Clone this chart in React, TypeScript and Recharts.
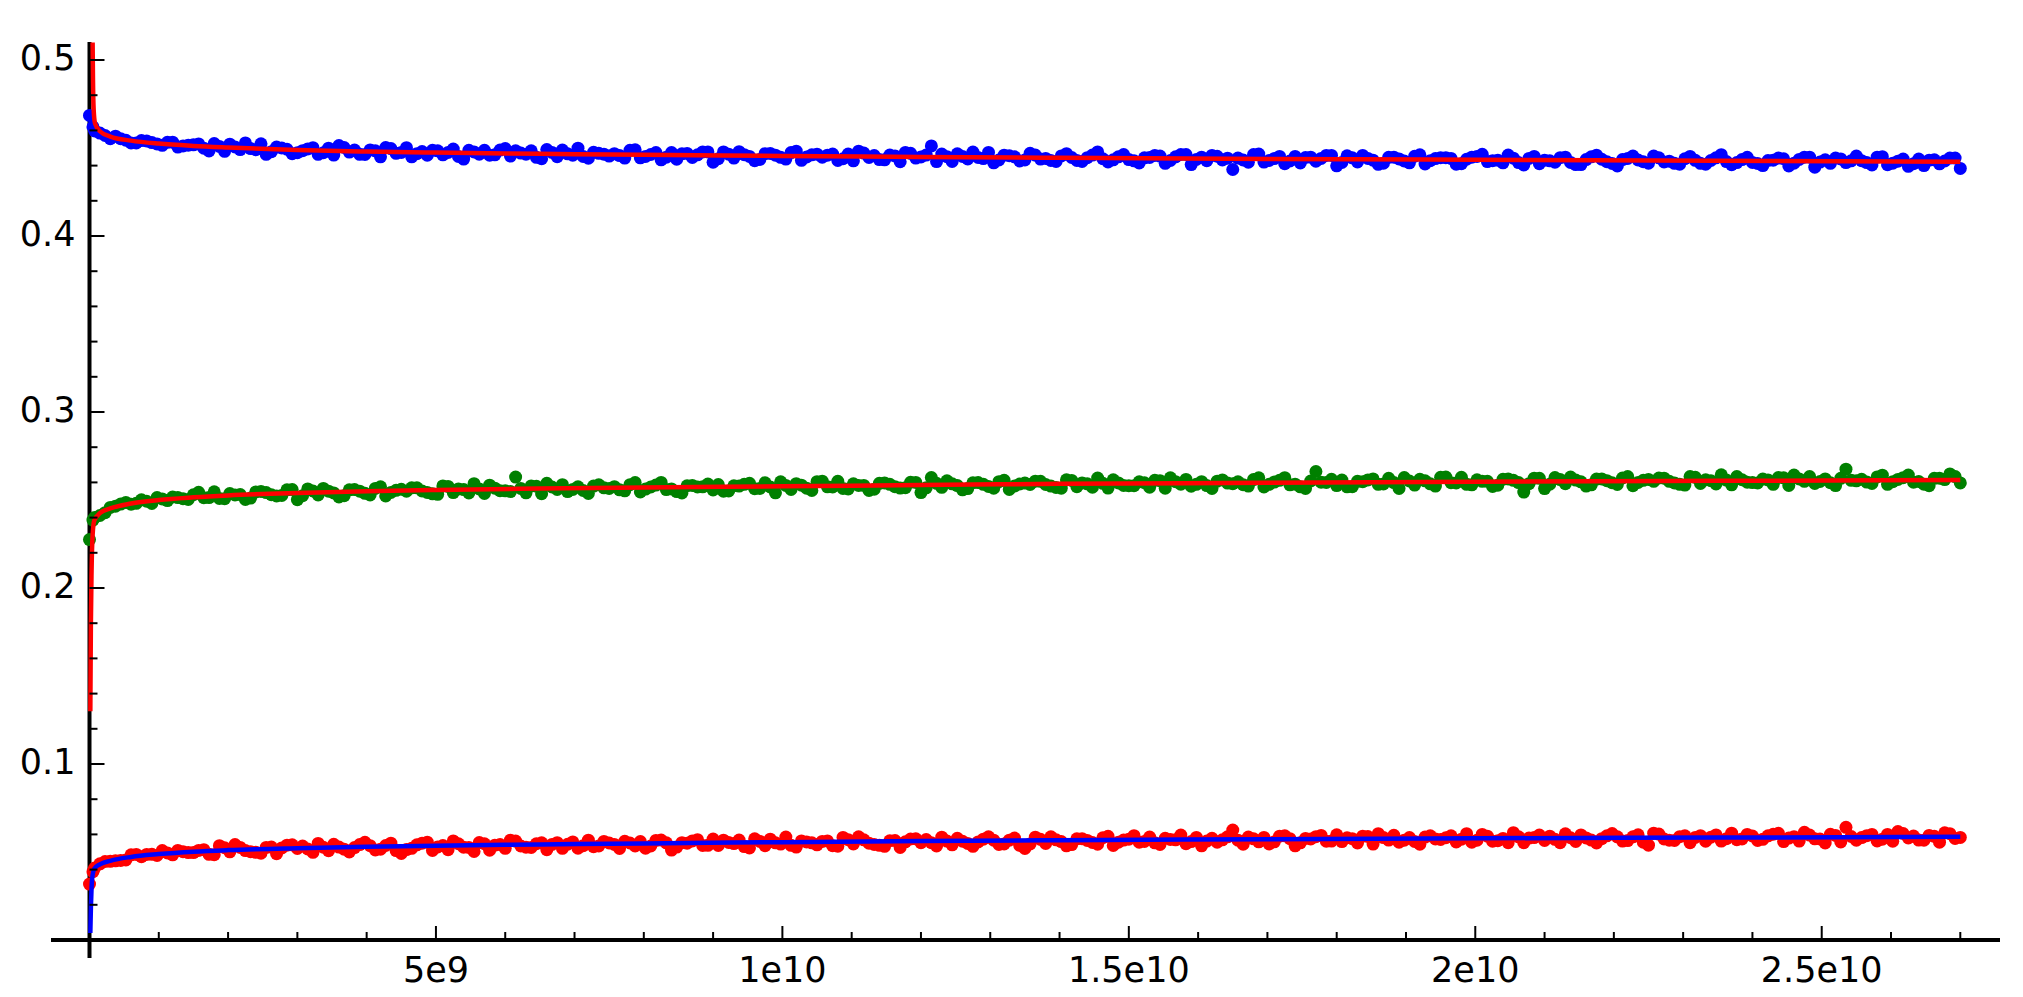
import { ComposedChart, Line, ReferenceLine, Scatter, XAxis, YAxis } from 'recharts';

// sample positions: set A = 0, 5e7, then every 1.5e8; set B sits halfway between
const X_POINTS_A = [0, 5e7, ...Array.from({ length: 180 }, (_, k) => (k + 1) * 1.5e8)];
const X_POINTS_B = Array.from({ length: 180 }, (_, k) => 7.5e7 + k * 1.5e8);

const BLUE_Y_A = [
  0.4685, 0.462,
  0.4585, 0.4553, 0.4553, 0.4529, 0.4542, 0.4531, 0.4515, 0.4533, 0.4512, 0.4518,
  0.4499, 0.4525, 0.4481, 0.4506, 0.4529, 0.449, 0.4464, 0.4505, 0.4493, 0.4473,
  0.4495, 0.4464, 0.4499, 0.4514, 0.4477, 0.4464, 0.4489, 0.445, 0.4497, 0.4475,
  0.445, 0.448, 0.4487, 0.4461, 0.4494, 0.4437, 0.4478, 0.4487, 0.4461, 0.4497,
  0.4484, 0.4465, 0.4447, 0.4491, 0.4451, 0.4467, 0.4499, 0.4442, 0.447, 0.4454,
  0.4457, 0.4487, 0.4444, 0.4463, 0.4433, 0.4474, 0.4467, 0.4446, 0.4478, 0.4419,
  0.4478, 0.4443, 0.4462, 0.4428, 0.4468, 0.4459, 0.4437, 0.4482, 0.4449, 0.4465,
  0.4459, 0.4429, 0.4466, 0.4482, 0.4446, 0.4434, 0.446, 0.4422, 0.447, 0.4449,
  0.4512, 0.4466, 0.4424, 0.4452, 0.4477, 0.444, 0.4416, 0.4459, 0.445, 0.4432,
  0.446, 0.4441, 0.4424, 0.4468, 0.4429, 0.4445, 0.4478, 0.4421, 0.445, 0.4434,
  0.4415, 0.4446, 0.4454, 0.4429, 0.4463, 0.4406, 0.4448, 0.4458, 0.4432, 0.4378,
  0.4432, 0.4463, 0.442, 0.444, 0.4411, 0.4452, 0.4446, 0.4425, 0.4458, 0.4399,
  0.4456, 0.4421, 0.4441, 0.4407, 0.4447, 0.4438, 0.4416, 0.4461, 0.4428, 0.4445,
  0.4441, 0.4411, 0.4448, 0.4464, 0.4428, 0.4416, 0.4442, 0.4404, 0.4452, 0.4431,
  0.4419, 0.4448, 0.4406, 0.4434, 0.4459, 0.4422, 0.4398, 0.4441, 0.4432, 0.4414,
  0.4444, 0.4425, 0.4408, 0.4452, 0.4413, 0.4429, 0.4462, 0.4405, 0.4434, 0.4418,
  0.44, 0.4431, 0.4439, 0.4414, 0.4448, 0.4391, 0.4433, 0.4443, 0.4417, 0.4454,
  0.4417, 0.4448, 0.4405, 0.4425, 0.4396, 0.4437, 0.4431, 0.441, 0.4443, 0.4384,
];
const BLUE_Y_B = [
  0.4597, 0.4571, 0.4567, 0.4544, 0.4529, 0.454, 0.4523, 0.4532, 0.4505, 0.4516,
  0.4523, 0.4483, 0.4509, 0.4522, 0.4491, 0.4497, 0.4524, 0.4479, 0.45, 0.4468,
  0.4485, 0.4502, 0.4473, 0.446, 0.4503, 0.4488, 0.4463, 0.4484, 0.4503, 0.447,
  0.4502, 0.4468, 0.4459, 0.4484, 0.4475, 0.4452, 0.4487, 0.4465, 0.4459, 0.4488,
  0.4454, 0.4471, 0.4484, 0.4439, 0.4475, 0.4488, 0.4459, 0.4452, 0.4476, 0.4465,
  0.4468, 0.4443, 0.449, 0.4452, 0.4474, 0.4448, 0.4436, 0.4469, 0.4461, 0.4478,
  0.4439, 0.4465, 0.4479, 0.4452, 0.4435, 0.4469, 0.4447, 0.4474, 0.443, 0.4461,
  0.4448, 0.4466, 0.4439, 0.4427, 0.4471, 0.4457, 0.4433, 0.4455, 0.4475, 0.4443,
  0.446, 0.4423, 0.4451, 0.4467, 0.4438, 0.4446, 0.4475, 0.4432, 0.4456, 0.4426,
  0.447, 0.4437, 0.4429, 0.4455, 0.4446, 0.4424, 0.446, 0.4439, 0.4433, 0.4463,
  0.4427, 0.4444, 0.4458, 0.4413, 0.445, 0.4463, 0.4435, 0.4428, 0.4453, 0.4442,
  0.4443, 0.4419, 0.4466, 0.4429, 0.4452, 0.4426, 0.4415, 0.4448, 0.4441, 0.4458,
  0.4418, 0.4444, 0.4458, 0.4431, 0.4414, 0.4448, 0.4426, 0.4453, 0.4409, 0.444,
  0.4445, 0.4408, 0.4436, 0.4452, 0.4423, 0.4431, 0.446, 0.4417, 0.4441, 0.4411,
  0.4427, 0.4445, 0.4418, 0.4406, 0.445, 0.4436, 0.4412, 0.4434, 0.4454, 0.4422,
  0.4454, 0.4421, 0.4413, 0.4439, 0.443, 0.4408, 0.4444, 0.4423, 0.4417, 0.4447,
  0.4412, 0.4429, 0.4443, 0.4398, 0.4435, 0.4448, 0.442, 0.4413, 0.4438, 0.4427,
  0.4428, 0.4404, 0.4451, 0.4414, 0.4437, 0.4411, 0.44, 0.4433, 0.4426, 0.4443,
];

const GREEN_Y_A = [
  0.2275, 0.2386,
  0.2412, 0.2458, 0.2477, 0.2476, 0.2501, 0.248, 0.2506, 0.2517, 0.2507, 0.253,
  0.2513, 0.2547, 0.2507, 0.2529, 0.2503, 0.2546, 0.2542, 0.2523, 0.2558, 0.2502,
  0.2563, 0.2529, 0.255, 0.2517, 0.2558, 0.255, 0.2529, 0.2575, 0.2543, 0.2561,
  0.2569, 0.2551, 0.2535, 0.258, 0.2542, 0.2559, 0.2593, 0.2537, 0.2567, 0.2552,
  0.263, 0.2541, 0.2578, 0.2595, 0.256, 0.2548, 0.2575, 0.2537, 0.2586, 0.2566,
  0.2558, 0.2587, 0.2546, 0.2574, 0.26, 0.2563, 0.254, 0.2583, 0.2575, 0.2557,
  0.255, 0.2581, 0.2589, 0.2564, 0.2598, 0.2541, 0.2583, 0.2593, 0.2567, 0.2604,
  0.2575, 0.2606, 0.2563, 0.2583, 0.2554, 0.2595, 0.2589, 0.2568, 0.2601, 0.2542,
  0.2628, 0.2572, 0.2592, 0.2558, 0.2598, 0.2589, 0.2567, 0.2612, 0.2579, 0.2596,
  0.2607, 0.2588, 0.2571, 0.2615, 0.2576, 0.2592, 0.2625, 0.2568, 0.2597, 0.2581,
  0.2603, 0.2573, 0.261, 0.2626, 0.259, 0.2578, 0.2604, 0.2566, 0.2614, 0.2593,
  0.2587, 0.2616, 0.2574, 0.2602, 0.2627, 0.259, 0.2566, 0.2662, 0.26, 0.2582,
  0.2575, 0.2606, 0.2614, 0.2589, 0.2623, 0.2566, 0.2608, 0.2618, 0.2592, 0.2629,
  0.2598, 0.2629, 0.2586, 0.2606, 0.2577, 0.2618, 0.2612, 0.2545, 0.2624, 0.2565,
  0.2628, 0.2593, 0.2613, 0.2579, 0.2619, 0.261, 0.2588, 0.2633, 0.26, 0.2617,
  0.2625, 0.2606, 0.2589, 0.2633, 0.2594, 0.261, 0.2643, 0.2586, 0.2615, 0.2599,
  0.2619, 0.2589, 0.2626, 0.2642, 0.2606, 0.2594, 0.262, 0.2582, 0.2675, 0.2609,
  0.2602, 0.2631, 0.2589, 0.2617, 0.2642, 0.2605, 0.2581, 0.2624, 0.2648, 0.2597,
];
const GREEN_Y_B = [
  0.2401, 0.2428, 0.2465, 0.2486, 0.2481, 0.2493, 0.2514, 0.2497, 0.2514, 0.2503,
  0.2544, 0.2514, 0.2509, 0.2537, 0.2531, 0.2511, 0.2549, 0.253, 0.2526, 0.2559,
  0.2524, 0.2551, 0.2566, 0.254, 0.2524, 0.2559, 0.2538, 0.2566, 0.2523, 0.2555,
  0.255, 0.2569, 0.2543, 0.2532, 0.2577, 0.2563, 0.254, 0.2563, 0.2584, 0.2553,
  0.2548, 0.2566, 0.258, 0.2536, 0.2574, 0.2587, 0.256, 0.2554, 0.2579, 0.2569,
  0.2576, 0.2552, 0.2599, 0.2562, 0.2585, 0.2559, 0.2548, 0.2581, 0.2574, 0.2591,
  0.2588, 0.2551, 0.2579, 0.2595, 0.2566, 0.2574, 0.2603, 0.256, 0.2584, 0.2554,
  0.2607, 0.2574, 0.2566, 0.2592, 0.2583, 0.2561, 0.2597, 0.2576, 0.257, 0.26,
  0.2569, 0.2595, 0.2609, 0.2582, 0.2565, 0.2599, 0.2577, 0.2604, 0.256, 0.2591,
  0.2588, 0.2606, 0.2579, 0.2567, 0.2611, 0.2597, 0.2573, 0.2595, 0.2615, 0.2583,
  0.2581, 0.2598, 0.2612, 0.2567, 0.2604, 0.2617, 0.2589, 0.2582, 0.2607, 0.2596,
  0.2603, 0.2579, 0.2626, 0.2589, 0.2612, 0.2586, 0.2575, 0.2608, 0.2601, 0.2618,
  0.2613, 0.2576, 0.2604, 0.262, 0.2591, 0.2599, 0.2628, 0.2585, 0.2609, 0.2579,
  0.263, 0.2597, 0.2589, 0.2615, 0.2606, 0.2584, 0.262, 0.2599, 0.2593, 0.2623,
  0.259, 0.2616, 0.263, 0.2603, 0.2586, 0.262, 0.2598, 0.2625, 0.2581, 0.2612,
  0.2606, 0.2624, 0.2597, 0.2585, 0.2629, 0.2615, 0.2591, 0.2613, 0.2633, 0.2601,
  0.2597, 0.2614, 0.2628, 0.2583, 0.262, 0.2633, 0.2605, 0.2598, 0.2623, 0.2612,
  0.2618, 0.2594, 0.2641, 0.2604, 0.2627, 0.2601, 0.259, 0.2623, 0.2616, 0.2633,
];

const RED_Y_A = [
  0.0318, 0.0388,
  0.0433, 0.0447, 0.0452, 0.0484, 0.0473, 0.0487, 0.0508, 0.0484, 0.0502, 0.0497,
  0.0513, 0.0485, 0.0524, 0.0542, 0.0508, 0.0498, 0.0526, 0.049, 0.0539, 0.052,
  0.0517, 0.0549, 0.0507, 0.0528, 0.05, 0.0542, 0.0536, 0.0516, 0.055, 0.0492,
  0.0521, 0.055, 0.0509, 0.0537, 0.0563, 0.0527, 0.0503, 0.0547, 0.0539, 0.0521,
  0.0562, 0.0527, 0.0547, 0.0513, 0.0553, 0.0544, 0.0522, 0.0567, 0.0534, 0.0551,
  0.052, 0.0551, 0.0559, 0.0534, 0.0568, 0.0511, 0.0553, 0.0563, 0.0537, 0.0574,
  0.0567, 0.0548, 0.0531, 0.0575, 0.0536, 0.0552, 0.0585, 0.0528, 0.0557, 0.0541,
  0.0563, 0.0533, 0.057, 0.0586, 0.055, 0.0538, 0.0564, 0.0526, 0.0574, 0.0553,
  0.0553, 0.0584, 0.0541, 0.0561, 0.0532, 0.0573, 0.0567, 0.0546, 0.0579, 0.052,
  0.0584, 0.0549, 0.0569, 0.0535, 0.0575, 0.0566, 0.0544, 0.0589, 0.0556, 0.0573,
  0.0556, 0.0585, 0.0543, 0.0571, 0.0596, 0.0559, 0.0535, 0.0578, 0.0569, 0.0625,
  0.0544, 0.0575, 0.0583, 0.0558, 0.0592, 0.0535, 0.0577, 0.0587, 0.0561, 0.0598,
  0.0581, 0.0551, 0.0588, 0.0604, 0.0568, 0.0556, 0.0582, 0.0544, 0.0592, 0.0571,
  0.0592, 0.0573, 0.0556, 0.06, 0.0561, 0.0577, 0.061, 0.0553, 0.0582, 0.0566,
  0.0572, 0.0603, 0.056, 0.058, 0.0551, 0.0592, 0.0586, 0.0565, 0.0598, 0.0539,
  0.0602, 0.0567, 0.0587, 0.0553, 0.0593, 0.0584, 0.0562, 0.0607, 0.0574, 0.0591,
  0.0572, 0.0601, 0.0559, 0.0587, 0.0612, 0.0575, 0.0551, 0.0594, 0.064, 0.0567,
  0.0593, 0.0563, 0.06, 0.0616, 0.058, 0.0568, 0.0594, 0.0556, 0.0604, 0.0583,
];
const RED_Y_B = [
  0.0409, 0.0446, 0.045, 0.0455, 0.0486, 0.0486, 0.048, 0.0495, 0.0509, 0.0497,
  0.0509, 0.0487, 0.0536, 0.0501, 0.0526, 0.0502, 0.0493, 0.0528, 0.0523, 0.0541,
  0.0534, 0.0498, 0.0527, 0.0544, 0.0516, 0.0525, 0.0555, 0.0512, 0.0537, 0.0508,
  0.0514, 0.0541, 0.0556, 0.0529, 0.0513, 0.0547, 0.0526, 0.0554, 0.051, 0.0542,
  0.0567, 0.0534, 0.0526, 0.0552, 0.0543, 0.0521, 0.0557, 0.0536, 0.053, 0.056,
  0.0543, 0.0561, 0.0534, 0.0522, 0.0566, 0.0552, 0.0528, 0.055, 0.057, 0.0538,
  0.0537, 0.0554, 0.0568, 0.0523, 0.056, 0.0573, 0.0545, 0.0538, 0.0563, 0.0552,
  0.056, 0.0536, 0.0583, 0.0546, 0.0569, 0.0543, 0.0532, 0.0565, 0.0558, 0.0575,
  0.0571, 0.0534, 0.0562, 0.0578, 0.0549, 0.0557, 0.0586, 0.0543, 0.0567, 0.0537,
  0.0546, 0.0572, 0.0586, 0.0559, 0.0542, 0.0576, 0.0554, 0.0581, 0.0537, 0.0568,
  0.0593, 0.056, 0.0552, 0.0578, 0.0569, 0.0547, 0.0583, 0.0562, 0.0556, 0.0586,
  0.0567, 0.0585, 0.0558, 0.0546, 0.059, 0.0576, 0.0552, 0.0574, 0.0594, 0.0562,
  0.0559, 0.0576, 0.059, 0.0545, 0.0582, 0.0595, 0.0567, 0.056, 0.0585, 0.0574,
  0.0581, 0.0557, 0.0604, 0.0567, 0.059, 0.0564, 0.0553, 0.0586, 0.0579, 0.0596,
  0.059, 0.0553, 0.0581, 0.0597, 0.0568, 0.0576, 0.0605, 0.0562, 0.0586, 0.0556,
  0.0607, 0.0574, 0.0566, 0.0592, 0.0583, 0.0561, 0.0597, 0.0576, 0.057, 0.06,
  0.0566, 0.0592, 0.0606, 0.0579, 0.0562, 0.0596, 0.0574, 0.0601, 0.0557, 0.0588,
  0.0582, 0.06, 0.0573, 0.0561, 0.0605, 0.0591, 0.0567, 0.0589, 0.0609, 0.0577,
];

// fitted curves
const BLUE_FIT_X = [4.5e7, 5e7, 6e7, 8e7, 1.5e8, 3e8, 6e8, 1e9, 1.5e9, 2e9, 3e9, 4e9, 5e9, 6.5e9, 8e9, 1e10, 1.2e10, 1.4e10, 1.7e10, 2e10, 2.35e10, 2.7e10];
const BLUE_FIT_Y = [0.51, 0.49, 0.472, 0.464, 0.4595, 0.4565, 0.4542, 0.4525, 0.4512, 0.4503, 0.4489, 0.448, 0.4474, 0.4467, 0.4461, 0.4455, 0.4449, 0.4444, 0.4438, 0.4433, 0.4428, 0.4422];
const GREEN_FIT_X = [1.2e7, 2e7, 3e7, 4.5e7, 7e7, 1.5e8, 3e8, 6e8, 1e9, 1.5e9, 2e9, 3e9, 4e9, 5e9, 6.5e9, 8e9, 1e10, 1.2e10, 1.4e10, 1.7e10, 2e10, 2.35e10, 2.7e10];
const GREEN_FIT_Y = [0.13, 0.18, 0.21, 0.23, 0.2385, 0.2425, 0.2452, 0.248, 0.25, 0.2515, 0.2526, 0.254, 0.255, 0.2557, 0.2565, 0.2571, 0.2578, 0.2585, 0.2592, 0.2598, 0.2604, 0.2609, 0.2613];
const RED_FIT_X = GREEN_FIT_X;
const RED_FIT_Y = [0.004, 0.018, 0.03, 0.037, 0.0405, 0.043, 0.045, 0.0472, 0.0488, 0.0502, 0.0511, 0.0522, 0.053, 0.0536, 0.0543, 0.0549, 0.0556, 0.0562, 0.0567, 0.0573, 0.0578, 0.0582, 0.0586];

const X_TICKS = [1e9, 2e9, 3e9, 4e9, 5e9, 6e9, 7e9, 8e9, 9e9, 1e10, 1.1e10, 1.2e10, 1.3e10, 1.4e10, 1.5e10, 1.6e10, 1.7e10, 1.8e10, 1.9e10, 2e10, 2.1e10, 2.2e10, 2.3e10, 2.4e10, 2.5e10, 2.6e10, 2.7e10];
const X_MAJOR = [5e9, 1e10, 1.5e10, 2e10, 2.5e10];
const X_LABELS = ['5e9', '1e10', '1.5e10', '2e10', '2.5e10'];
const Y_TICKS = [0.02, 0.04, 0.06, 0.08, 0.1, 0.12, 0.14, 0.16, 0.18, 0.2, 0.22, 0.24, 0.26, 0.28, 0.3, 0.32, 0.34, 0.36, 0.38, 0.4, 0.42, 0.44, 0.46, 0.48, 0.5];
const Y_MAJOR = [0.1, 0.2, 0.3, 0.4, 0.5];
const Y_LABELS = ['0.1', '0.2', '0.3', '0.4', '0.5'];

const X_MIN = -5.556e8;
const X_MAX = 2.7573e10;
const Y_MIN = -0.010227;
const Y_MAX = 0.51023;

const WIDTH = 2007;
const HEIGHT = 985;
const MARGIN = { top: 34, right: 15, bottom: 5, left: 3 };
const Y_AXIS_W = 40;
const X_AXIS_H = 30;
const PLOT_LEFT = MARGIN.left + Y_AXIS_W;
const PLOT_W = WIDTH - PLOT_LEFT - MARGIN.right;
const PLOT_H = HEIGHT - MARGIN.top - MARGIN.bottom - X_AXIS_H;
// where the axes cross (data 0,0), in svg pixels
const X0_PX = PLOT_LEFT + ((0 - X_MIN) / (X_MAX - X_MIN)) * PLOT_W;
const Y0_PX = MARGIN.top + ((Y_MAX - 0) / (Y_MAX - Y_MIN)) * PLOT_H;

const FONT = '"DejaVu Sans", sans-serif';

const toPoints = (xs: number[], ys: number[]) => ys.map((y, i) => ({ x: xs[i], y }));
const bluePts = [...toPoints(X_POINTS_A, BLUE_Y_A), ...toPoints(X_POINTS_B, BLUE_Y_B)];
const greenPts = [...toPoints(X_POINTS_A, GREEN_Y_A), ...toPoints(X_POINTS_B, GREEN_Y_B)];
const redPts = [...toPoints(X_POINTS_A, RED_Y_A), ...toPoints(X_POINTS_B, RED_Y_B)];
const blueFit = toPoints(BLUE_FIT_X, BLUE_FIT_Y);
const greenFit = toPoints(GREEN_FIT_X, GREEN_FIT_Y);
const redFit = toPoints(RED_FIT_X, RED_FIT_Y);

function XTick({ x, payload }: any) {
  const i = X_MAJOR.indexOf(payload.value);
  return (
    <g>
      <line x1={x} x2={x} y1={Y0_PX} y2={Y0_PX - (i >= 0 ? 14 : 8)} stroke="#000" strokeWidth={2} />
      {i >= 0 && (
        <text x={x} y={Y0_PX + 42} textAnchor="middle" fontSize={35} fontFamily={FONT} fill="#000">
          {X_LABELS[i]}
        </text>
      )}
    </g>
  );
}

function YTick({ y, payload }: any) {
  const i = Y_MAJOR.indexOf(payload.value);
  return (
    <g>
      <line x1={X0_PX} x2={X0_PX + (i >= 0 ? 15 : 8)} y1={y} y2={y} stroke="#000" strokeWidth={2} />
      {i >= 0 && (
        <text x={X0_PX - 14} y={y + 10} textAnchor="end" fontSize={35} fontFamily={FONT} fill="#000">
          {Y_LABELS[i]}
        </text>
      )}
    </g>
  );
}

const dot = (fill: string) => (p: any) => <circle cx={p.cx} cy={p.cy} r={6.5} fill={fill} />;

export default function App() {
  return (
    <ComposedChart width={WIDTH} height={HEIGHT} margin={MARGIN}>
      <XAxis
        type="number"
        dataKey="x"
        domain={[X_MIN, X_MAX]}
        allowDataOverflow
        ticks={X_TICKS}
        interval={0}
        axisLine={false}
        tickLine={false}
        tickSize={0}
        height={X_AXIS_H}
        tick={<XTick />}
      />
      <YAxis
        type="number"
        dataKey="y"
        domain={[Y_MIN, Y_MAX]}
        allowDataOverflow
        ticks={Y_TICKS}
        interval={0}
        axisLine={false}
        tickLine={false}
        tickSize={0}
        width={Y_AXIS_W}
        tick={<YTick />}
      />
      <ReferenceLine x={0} stroke="#000" strokeWidth={4} />
      <ReferenceLine y={0} stroke="#000" strokeWidth={4} />
      <Scatter data={bluePts} fill="#0000ff" shape={dot('#0000ff')} isAnimationActive={false} />
      <Scatter data={greenPts} fill="#008000" shape={dot('#008000')} isAnimationActive={false} />
      <Scatter data={redPts} fill="#ff0000" shape={dot('#ff0000')} isAnimationActive={false} />
      <Line data={blueFit} dataKey="y" type="monotone" stroke="#ff0000" strokeWidth={4.5} dot={false} activeDot={false} isAnimationActive={false} zIndex={900} />
      <Line data={greenFit} dataKey="y" type="monotone" stroke="#ff0000" strokeWidth={4.5} dot={false} activeDot={false} isAnimationActive={false} zIndex={900} />
      <Line data={redFit} dataKey="y" type="monotone" stroke="#0000ff" strokeWidth={4.5} dot={false} activeDot={false} isAnimationActive={false} zIndex={900} />
    </ComposedChart>
  );
}
